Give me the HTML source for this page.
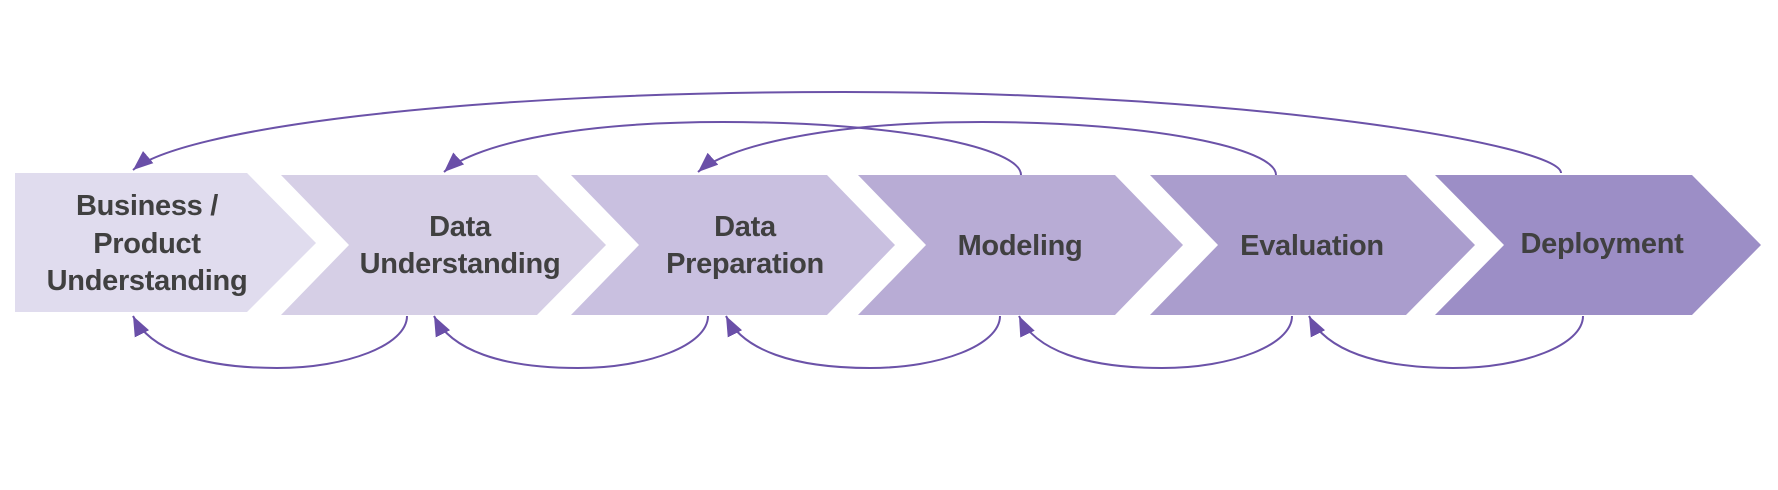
<!DOCTYPE html>
<html><head><meta charset="utf-8"><style>
html,body{margin:0;padding:0;background:#fff;}
svg{display:block;}
text{font-family:"Liberation Sans",Arial,sans-serif;font-weight:bold;font-size:29px;fill:#404040;text-anchor:middle;letter-spacing:-0.3px;}
</style></head><body>
<svg width="1778" height="490" viewBox="0 0 1778 490" xmlns="http://www.w3.org/2000/svg">
<defs>
<marker id="ah" markerUnits="userSpaceOnUse" markerWidth="22" markerHeight="18" refX="20" refY="8" orient="auto">
<path d="M0,0 L20,8 L0,16 z" fill="#6a4fa8"/>
</marker>
</defs>
<polygon points="15,173 247,173 316,243 247,312 15,312" fill="#e0dcee"/>
<polygon points="281,175 537,175 606,245 537,315 281,315 349,245" fill="#d6cfe6"/>
<polygon points="571,175 827,175 895,245 827,315 571,315 639,245" fill="#c9c0e0"/>
<polygon points="858,175 1115,175 1183,245 1115,315 858,315 926,245" fill="#b8acd5"/>
<polygon points="1150,175 1406,175 1475,245 1406,315 1150,315 1218,245" fill="#aa9dcd"/>
<polygon points="1435,175 1692,175 1761,245 1692,315 1435,315 1504,245" fill="#9c8ec6"/>

<text x="147" y="215">Business /</text>
<text x="147" y="253">Product</text>
<text x="147" y="290">Understanding</text>
<text x="460" y="236">Data</text>
<text x="460" y="273">Understanding</text>
<text x="745" y="236">Data</text>
<text x="745" y="273">Preparation</text>
<text x="1020" y="255">Modeling</text>
<text x="1312" y="255">Evaluation</text>
<text x="1602" y="253">Deployment</text>

<g fill="none" stroke="#6b52a8" stroke-width="2" marker-end="url(#ah)">
<path d="M1561 173 C1561 145, 1250 92, 844 92 C450 92, 180 130, 133 170"/>
<path d="M1021 175 C1021 148, 900 122, 723 122 C560 122, 470 148, 444 172"/>
<path d="M1276 175 C1276 148, 1150 122, 982 122 C820 122, 725 148, 698 172"/>
<path d="M407 316 C407 345, 347 368, 277 368 C200 368, 150 350, 133 316"/>
<path d="M708 316 C708 345, 648 368, 578 368 C501 368, 451 350, 434 316"/>
<path d="M1000 316 C1000 345, 940 368, 870 368 C793 368, 743 350, 726 316"/>
<path d="M1292 316 C1292 345, 1232 368, 1162 368 C1085 368, 1035 350, 1019 316"/>
<path d="M1583 316 C1583 345, 1523 368, 1453 368 C1376 368, 1326 350, 1309 316"/>
</g>
</svg>
</body></html>
